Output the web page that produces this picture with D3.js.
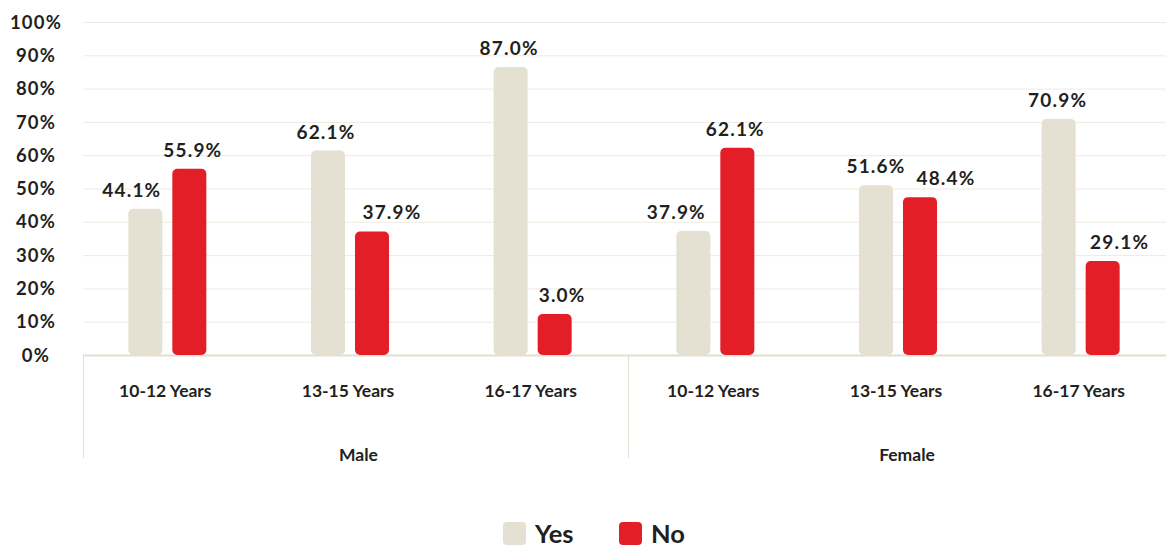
<!DOCTYPE html>
<html>
  <head>
    <meta charset="utf-8">
    <style>
    body { margin: 0; background: #fff; }
    text { font-family: Lato, "Open Sans", sans-serif; font-weight: bold; fill: #231f20; }
    .tick-label { font-size: 18.5px; letter-spacing: 1.2px; }
    .val-label { font-size: 19px; letter-spacing: 1.2px; }
    .cat-label { font-size: 17.5px; }
    .grp-label { font-size: 17.5px; }
    .legend-label { font-size: 25.5px; }
    </style>
  </head>
  <body>
    <div id="chart"></div>
    <script src="https://d3js.org/d3.v7.min.js"></script>
    <script>

// data
var groups = ["Male", "Female"];
var ageBands = ["10-12 Years", "13-15 Years", "16-17 Years"];
var seriesNames = ["Yes", "No"];
var yesValues = [43.9, 61.4, 86.5, 37.2, 51.0, 70.9];
var noValues = [55.9, 37.1, 12.3, 62.2, 47.4, 28.2];
var yesLabels = ["44.1%", "62.1%", "87.0%", "37.9%", "51.6%", "70.9%"];
var noLabels = ["55.9%", "37.9%", "3.0%", "62.1%", "48.4%", "29.1%"];
var yTicks = [0, 10, 20, 30, 40, 50, 60, 70, 80, 90, 100];

var colours = { Yes: "#e4e1d2", No: "#e31e26" };

var width = 1166, height = 548;

var svg = d3.select("#chart").append("svg")
    .attr("width", width)
    .attr("height", height);

var y = d3.scaleLinear().domain([0, 100]).range([355, 22]);

// one band per (group, age) pair
var cats = [];
groups.forEach(function(g){
  ageBands.forEach(function(a){ cats.push(g + "|" + a); });
});

var x = d3.scaleBand().domain(cats).range([76, 1172]);
var inner = d3.scaleBand().domain(seriesNames).range([-39, 39]).paddingInner(0.227);

// gridlines
svg.append("g").selectAll("line")
  .data(yTicks)
  .enter().append("line")
    .attr("x1", 83).attr("x2", width)
    .attr("y1", function(d){ return y(d) + 0.5; })
    .attr("y2", function(d){ return y(d) + 0.5; })
    .style("stroke", function(d){ return d === 0 ? "#e2dfd0" : "#eeebe0"; })
    .style("stroke-width", function(d){ return d === 0 ? 2 : 1; });

// y tick labels
svg.append("g").selectAll("text")
  .data(yTicks)
  .enter().append("text")
    .attr("class", "tick-label")
    .attr("x", 36)
    .attr("y", function(d){ return y(d); })
    .attr("dy", "0.36em")
    .attr("text-anchor", "middle")
    .text(function(d){ return d + "%"; });

// hierarchical x axis separators
var seps = [83, 628];
svg.append("g").selectAll("line")
  .data(seps)
  .enter().append("line")
    .attr("x1", function(d){ return d + 0.5; })
    .attr("x2", function(d){ return d + 0.5; })
    .attr("y1", 355).attr("y2", 458)
    .style("stroke", "#e2dfd0")
    .style("stroke-width", 1);

// category labels
svg.append("g").selectAll("text")
  .data(cats)
  .enter().append("text")
    .attr("class", "cat-label")
    .attr("x", function(d){ return x(d) + x.bandwidth() / 2 - 2; })
    .attr("y", 397)
    .attr("text-anchor", "middle")
    .text(function(d){ return d.split("|")[1]; });

// group labels
var grpCentre = [(83 + 628) / 2 + 3, (628 + 1186) / 2];
svg.append("g").selectAll("text")
  .data(groups)
  .enter().append("text")
    .attr("class", "grp-label")
    .attr("x", function(d, i){ return grpCentre[i]; })
    .attr("y", 461)
    .attr("text-anchor", "middle")
    .text(function(d){ return d; });

// bars
var rows = cats.map(function(c, i){
  return [
    { cat: c, s: "Yes", v: yesValues[i], label: yesLabels[i], i: i },
    { cat: c, s: "No", v: noValues[i], label: noLabels[i], i: i }
  ];
});
var flat = [].concat.apply([], rows);

svg.append("g").selectAll("rect")
  .data(flat)
  .enter().append("rect")
    .attr("x", function(d){ return x(d.cat) + x.bandwidth() / 2 + inner(d.s); })
    .attr("width", inner.bandwidth())
    .attr("y", function(d){ return y(d.v); })
    .attr("height", function(d){ return y(0) - y(d.v); })
    .attr("rx", 5).attr("ry", 5)
    .style("fill", function(d){ return colours[d.s]; });

// label nudges so labels don't collide (as in the original)
var nudge = {
  Yes: [-13.5, -2, -1.5, -17, 0, -1],
  No: [3.5, 20, 7.5, -2, 26, 17]
};

svg.append("g").selectAll("text")
  .data(flat)
  .enter().append("text")
    .attr("class", "val-label")
    .attr("x", function(d){ return x(d.cat) + x.bandwidth() / 2 + inner(d.s) + inner.bandwidth() / 2 + nudge[d.s][d.i]; })
    .attr("y", function(d){ return y(d.v) - 12; })
    .attr("text-anchor", "middle")
    .text(function(d){ return d.label; });

// legend
var legendX = [503, 619];
var lg = svg.append("g").selectAll("g")
  .data(seriesNames)
  .enter().append("g")
    .attr("transform", function(d, i){ return "translate(" + legendX[i] + ",522)"; });

lg.append("rect")
  .attr("width", 23).attr("height", 23)
  .attr("rx", 4).attr("ry", 4)
  .style("fill", function(d){ return colours[d]; });

lg.append("text")
  .attr("class", "legend-label")
  .attr("x", 32)
  .attr("y", 21)
  .text(function(d){ return d; });

    </script>
  </body>
</html>
